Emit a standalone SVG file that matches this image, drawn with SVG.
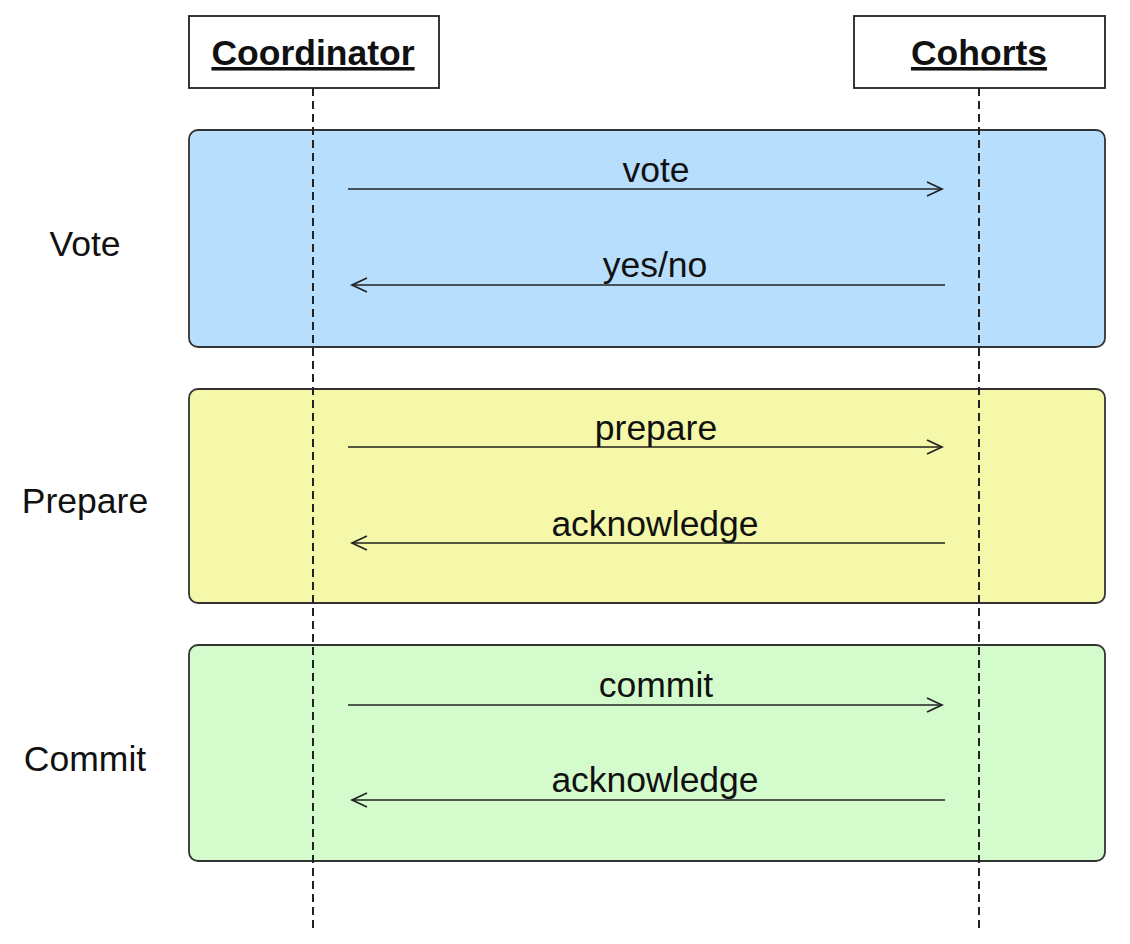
<svg xmlns="http://www.w3.org/2000/svg" width="1130" height="944" viewBox="0 0 1130 944">
<style>
text{font-family:"Liberation Sans",Arial,sans-serif;font-size:35.5px;fill:#111;}
.hdr{font-weight:bold;text-decoration:underline;text-anchor:middle;}
.lbl{text-anchor:middle;}
.box{fill:#fff;stroke:#222;stroke-width:1.8;}
.region{stroke:#333;stroke-width:1.8;}
.life{stroke:#222;stroke-width:2;stroke-dasharray:8 5;fill:none;}
.msg{stroke:#222;stroke-width:1.7;fill:none;marker-end:url(#open);}
</style>
<defs>
<marker id="open" markerWidth="20" markerHeight="20" refX="16" refY="8" orient="auto" markerUnits="userSpaceOnUse">
<path d="M1,1 L16,8 L1,15" fill="none" stroke="#222" stroke-width="1.7"/>
</marker>
</defs>
<rect width="1130" height="944" fill="#fff"/>
<g id="phase-vote">
<rect class="region" x="189" y="130" width="916" height="217" rx="9" fill="#b7defd"/>
<text class="lbl" x="85" y="256">Vote</text>
</g>
<g id="phase-prepare">
<rect class="region" x="189" y="389" width="916" height="214" rx="9" fill="#f4f8a8"/>
<text class="lbl" x="85" y="513">Prepare</text>
</g>
<g id="phase-commit">
<rect class="region" x="189" y="645" width="916" height="216" rx="9" fill="#d4fbcc"/>
<text class="lbl" x="85" y="771">Commit</text>
</g>
<g id="coordinator">
<rect class="box" x="189" y="16" width="250" height="72"/>
<text class="hdr" x="313" y="65">Coordinator</text>
</g>
<g id="cohorts">
<rect class="box" x="854" y="16" width="251" height="72"/>
<text class="hdr" x="979" y="65">Cohorts</text>
</g>
<g id="connectors">
<line class="life" x1="313" y1="88" x2="313" y2="930"/>
<line class="life" x1="979" y1="88" x2="979" y2="930"/>
<line class="msg" x1="348" y1="189" x2="942" y2="189"/>
<text class="lbl" x="656" y="182">vote</text>
<line class="msg" x1="945" y1="285" x2="352" y2="285"/>
<text class="lbl" x="655" y="277">yes/no</text>
<line class="msg" x1="348" y1="447" x2="942" y2="447"/>
<text class="lbl" x="656" y="440">prepare</text>
<line class="msg" x1="945" y1="543" x2="352" y2="543"/>
<text class="lbl" x="655" y="536">acknowledge</text>
<line class="msg" x1="348" y1="705" x2="942" y2="705"/>
<text class="lbl" x="656" y="697">commit</text>
<line class="msg" x1="945" y1="800" x2="352" y2="800"/>
<text class="lbl" x="655" y="792">acknowledge</text>
</g>
</svg>
